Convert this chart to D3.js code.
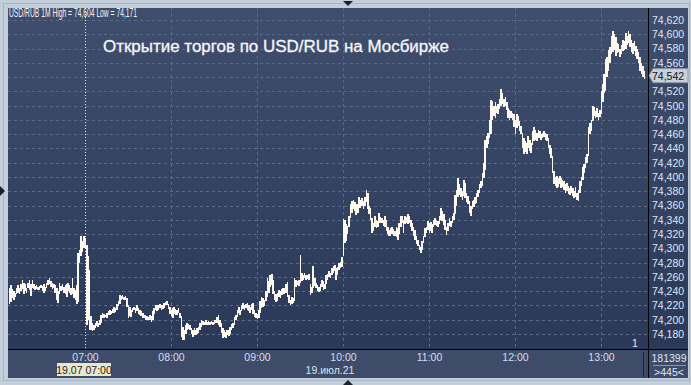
<!DOCTYPE html>
<html>
<head>
<meta charset="utf-8">
<script src="https://cdn.jsdelivr.net/npm/d3@7"></script>
<style>
body { margin: 0; background: #c3cedb; }
svg { display: block; font-family: "Liberation Sans", Arial, sans-serif; }
</style>
</head>
<body>
<svg id="chart" width="691" height="385"></svg>
<script>
// one-minute bars, first bar at 06:07
var firstBar = new Date(2021, 6, 19, 6, 7);
var highs = [
74.245,74.248,74.243,74.240,74.238,74.245,74.248,74.244,74.250,74.255,
74.252,74.250,74.245,74.252,74.256,74.250,74.256,74.250,74.247,74.248,
74.246,74.247,74.249,74.247,74.250,74.246,74.251,74.256,74.258,74.254,
74.252,74.250,74.249,74.245,74.240,74.252,74.247,74.250,74.246,74.248,
74.250,74.251,74.249,74.245,74.258,74.245,74.242,74.248,74.293,74.298,
74.318,74.310,74.317,74.315,74.305,74.290,74.270,74.205,74.195,74.192,
74.196,74.198,74.195,74.200,74.206,74.210,74.208,74.207,74.210,74.212,
74.213,74.212,74.215,74.218,74.216,74.222,74.226,74.234,74.233,74.234,
74.232,74.233,74.230,74.220,74.218,74.214,74.216,74.218,74.217,74.221,
74.216,74.213,74.212,74.210,74.207,74.206,74.205,74.204,74.206,74.205,
74.212,74.216,74.220,74.221,74.220,74.222,74.220,74.221,74.224,74.225,
74.226,74.222,74.218,74.214,74.216,74.218,74.215,74.214,74.216,74.210,
74.205,74.190,74.186,74.192,74.196,74.194,74.192,74.188,74.185,74.188,
74.186,74.188,74.190,74.196,74.200,74.198,74.197,74.199,74.197,74.198,
74.197,74.198,74.197,74.199,74.200,74.204,74.206,74.200,74.195,74.188,
74.185,74.183,74.186,74.185,74.190,74.194,74.196,74.204,74.207,74.214,
74.218,74.214,74.221,74.223,74.220,74.222,74.223,74.220,74.218,74.222,
74.223,74.214,74.210,74.208,74.214,74.226,74.232,74.230,74.228,74.240,
74.258,74.254,74.262,74.264,74.256,74.240,74.236,74.238,74.242,74.240,
74.243,74.245,74.244,74.250,74.253,74.234,74.228,74.232,74.230,74.258,
74.256,74.254,74.256,74.291,74.266,74.262,74.266,74.263,74.262,74.264,
74.250,74.246,74.275,74.258,74.251,74.248,74.246,74.250,74.256,74.254,
74.250,74.262,74.264,74.268,74.266,74.272,74.275,74.277,74.272,74.274,
74.279,74.281,74.288,74.341,74.340,74.334,74.332,74.345,74.362,74.366,
74.368,74.365,74.362,74.362,74.372,74.368,74.371,74.366,74.372,74.382,
74.378,74.360,74.356,74.343,74.335,74.345,74.340,74.338,74.350,74.344,
74.342,74.340,74.345,74.340,74.330,74.326,74.328,74.330,74.327,74.325,
74.330,74.328,74.336,74.346,74.345,74.340,74.346,74.344,74.348,74.346,
74.340,74.335,74.330,74.326,74.318,74.312,74.305,74.302,74.310,74.318,
74.328,74.330,74.338,74.335,74.337,74.334,74.340,74.342,74.340,74.338,
74.345,74.356,74.352,74.348,74.340,74.330,74.335,74.342,74.338,74.345,
74.350,74.375,74.382,74.398,74.390,74.384,74.380,74.396,74.392,74.378,
74.374,74.366,74.360,74.366,74.368,74.372,74.377,74.382,74.390,74.395,
74.406,74.420,74.452,74.458,74.462,74.480,74.508,74.506,74.500,74.505,
74.500,74.502,74.510,74.524,74.518,74.510,74.512,74.505,74.496,74.494,
74.492,74.490,74.488,74.480,74.488,74.485,74.478,74.472,74.462,74.455,
74.450,74.448,74.458,74.452,74.448,74.465,74.470,74.466,74.462,74.466,
74.464,74.460,74.462,74.465,74.462,74.460,74.455,74.445,74.440,74.430,
74.408,74.400,74.402,74.398,74.402,74.398,74.396,74.395,74.390,74.392,
74.388,74.385,74.388,74.384,74.380,74.386,74.378,74.382,74.394,74.400,
74.414,74.418,74.428,74.432,74.470,74.476,74.480,74.500,74.498,74.492,
74.496,74.490,74.494,74.520,74.530,74.545,74.565,74.568,74.578,74.582,
74.598,74.604,74.600,74.596,74.588,74.586,74.580,74.585,74.592,74.590,
74.602,74.598,74.604,74.600,74.592,74.588,74.590,74.584,74.580,74.575,
74.568,74.560,74.555,74.548
];
var lows = [
74.222,74.225,74.230,74.228,74.232,74.236,74.238,74.236,74.240,74.243,
74.236,74.240,74.237,74.245,74.242,74.233,74.245,74.243,74.242,74.243,
74.242,74.241,74.244,74.240,74.238,74.240,74.245,74.248,74.250,74.246,
74.243,74.245,74.238,74.228,74.224,74.236,74.240,74.242,74.238,74.236,
74.232,74.240,74.238,74.235,74.236,74.230,74.228,74.222,74.225,74.280,
74.290,74.295,74.300,74.300,74.192,74.200,74.186,74.185,74.184,74.186,
74.188,74.191,74.190,74.192,74.196,74.203,74.203,74.204,74.203,74.206,
74.207,74.208,74.209,74.210,74.211,74.214,74.219,74.222,74.228,74.229,
74.228,74.227,74.218,74.202,74.205,74.204,74.211,74.213,74.210,74.212,
74.208,74.207,74.205,74.203,74.202,74.200,74.200,74.199,74.199,74.197,
74.200,74.208,74.214,74.212,74.214,74.216,74.214,74.215,74.217,74.220,
74.220,74.215,74.208,74.205,74.203,74.208,74.206,74.207,74.210,74.203,
74.176,74.172,74.171,74.180,74.186,74.187,74.185,74.180,74.176,74.178,
74.178,74.180,74.182,74.186,74.190,74.192,74.192,74.193,74.193,74.193,
74.193,74.194,74.192,74.194,74.195,74.196,74.192,74.190,74.182,74.175,
74.176,74.175,74.178,74.177,74.180,74.186,74.188,74.193,74.200,74.204,
74.210,74.206,74.212,74.215,74.214,74.216,74.214,74.212,74.210,74.214,
74.208,74.204,74.203,74.201,74.203,74.210,74.216,74.218,74.219,74.226,
74.232,74.238,74.246,74.248,74.236,74.228,74.225,74.226,74.232,74.230,
74.234,74.236,74.236,74.238,74.232,74.224,74.220,74.222,74.224,74.226,
74.246,74.248,74.247,74.252,74.254,74.256,74.258,74.256,74.257,74.255,
74.234,74.238,74.245,74.247,74.244,74.240,74.239,74.240,74.246,74.242,
74.243,74.250,74.256,74.260,74.259,74.262,74.266,74.268,74.255,74.262,
74.270,74.272,74.274,74.290,74.308,74.310,74.320,74.330,74.342,74.350,
74.355,74.352,74.347,74.350,74.356,74.356,74.360,74.355,74.360,74.365,
74.355,74.348,74.340,74.322,74.324,74.330,74.328,74.330,74.335,74.336,
74.336,74.332,74.330,74.325,74.320,74.318,74.318,74.320,74.318,74.317,
74.316,74.312,74.320,74.330,74.336,74.322,74.334,74.335,74.334,74.335,
74.330,74.325,74.318,74.312,74.306,74.304,74.298,74.294,74.298,74.308,
74.316,74.322,74.326,74.322,74.325,74.321,74.330,74.333,74.332,74.330,
74.334,74.340,74.338,74.333,74.326,74.319,74.324,74.332,74.330,74.336,
74.340,74.348,74.360,74.372,74.375,74.372,74.368,74.374,74.370,74.365,
74.362,74.350,74.346,74.355,74.358,74.362,74.364,74.372,74.378,74.384,
74.388,74.398,74.410,74.440,74.446,74.455,74.460,74.480,74.486,74.482,
74.490,74.488,74.495,74.500,74.502,74.498,74.500,74.494,74.482,74.480,
74.482,74.480,74.470,74.460,74.468,74.472,74.465,74.460,74.440,74.432,
74.435,74.432,74.440,74.436,74.434,74.445,74.450,74.452,74.450,74.454,
74.455,74.452,74.454,74.456,74.452,74.450,74.440,74.432,74.426,74.405,
74.390,74.388,74.384,74.386,74.390,74.384,74.386,74.382,74.378,74.380,
74.376,74.375,74.378,74.374,74.370,74.372,74.368,74.366,74.378,74.388,
74.396,74.405,74.412,74.420,74.430,74.460,74.465,74.478,74.485,74.482,
74.484,74.480,74.484,74.488,74.505,74.518,74.520,74.540,74.548,74.560,
74.572,74.575,74.578,74.570,74.574,74.575,74.568,74.572,74.576,74.578,
74.580,74.585,74.588,74.582,74.575,74.572,74.576,74.570,74.566,74.560,
74.548,74.545,74.540,74.538
];
var priceTicks = [74.18,74.20,74.22,74.24,74.26,74.28,74.30,74.32,74.34,74.36,74.38,74.40,
                  74.42,74.44,74.46,74.48,74.50,74.52,74.54,74.56,74.58,74.60,74.62];
var hourTicks = ["07:00","08:00","09:00","10:00","11:00","12:00","13:00"];
var lastPrice = 74.542;
var title = "Открытие торгов по USD/RUB на Мосбирже";
var header = "USD/RUB 1M High = 74,604 Low = 74,171";

var svg = d3.select("#chart");
var plotL = 8, plotR = 648, plotT = 8, plotB = 349;

var parseHour = d3.timeParse("%Y-%m-%d %H:%M");
var x = d3.scaleTime()
    .domain([new Date(2021, 6, 19, 6, 6, 17), new Date(2021, 6, 19, 13, 32, 48)])
    .range([plotL, plotR]);
var y = d3.scaleLinear()
    .domain([74.18, 74.62])
    .range([334, 20]);
var fmt = function(v){ return d3.format(".3f")(v).replace(".", ","); };

var bars = highs.map(function(h, i){
    return {t: d3.timeMinute.offset(firstBar, i), high: h, low: lows[i]};
});

// backgrounds
var defs = svg.append("defs");
var grad = defs.append("linearGradient").attr("id", "bg").attr("x1", 0).attr("y1", 0).attr("x2", 0).attr("y2", 1);
grad.append("stop").attr("offset", "0%").attr("stop-color", "#3f4e6c");
grad.append("stop").attr("offset", "100%").attr("stop-color", "#2b3958");

svg.append("rect").attr("x", 3.5).attr("y", 3.5).attr("width", 686).attr("height", 377)
    .attr("fill", "none").attr("stroke", "#a9b6c7");
svg.append("rect").attr("x", plotL).attr("y", plotT).attr("width", 680).attr("height", plotB - plotT)
    .attr("fill", "url(#bg)");
svg.append("rect").attr("x", plotL).attr("y", plotB).attr("width", 680).attr("height", 29)
    .attr("fill", "#3e4c69");

// grid
var gridColor = "#5a6986";
svg.append("g").selectAll("line").data(priceTicks).join("line")
    .attr("x1", plotL).attr("x2", plotR)
    .attr("y1", function(d){ return Math.round(y(d)) + 0.5; })
    .attr("y2", function(d){ return Math.round(y(d)) + 0.5; })
    .attr("stroke", gridColor).attr("stroke-dasharray", "3,3");
svg.append("g").selectAll("line").data(hourTicks).join("line")
    .attr("x1", function(d){ return Math.round(x(parseHour("2021-07-19 " + d))) + 0.5; })
    .attr("x2", function(d){ return Math.round(x(parseHour("2021-07-19 " + d))) + 0.5; })
    .attr("y1", plotT).attr("y2", plotB)
    .attr("stroke", function(d, i){ return i == 0 ? "none" : gridColor; })
    .attr("stroke-dasharray", "3,3");

// cursor line at 07:00
var cx = Math.round(x(parseHour("2021-07-19 07:00"))) + 0.5;
svg.append("line").attr("x1", cx).attr("x2", cx).attr("y1", plotT).attr("y2", plotB)
    .attr("stroke", "#f0f0f0").attr("stroke-dasharray", "1,2");

// bars
svg.append("g").attr("shape-rendering", "crispEdges").selectAll("rect").data(bars).join("rect")
    .attr("x", function(d){ return x(d.t) - 0.4; })
    .attr("width", 1.6)
    .attr("y", function(d){ return y(d.high); })
    .attr("height", function(d){ return Math.max(1, y(d.low) - y(d.high)); })
    .attr("fill", "#fff8ef");

// separators
svg.append("line").attr("x1", plotR + 0.5).attr("x2", plotR + 0.5).attr("y1", plotT).attr("y2", 378)
    .attr("stroke", "#000");
svg.append("line").attr("x1", plotL).attr("x2", 688).attr("y1", plotB + 0.5).attr("y2", plotB + 0.5)
    .attr("stroke", "#000");
svg.append("line").attr("x1", 643.5).attr("x2", 643.5).attr("y1", 352).attr("y2", 377)
    .attr("stroke", "#1c2536");

// right price axis
var yAxis = d3.axisRight(y).tickValues(priceTicks).tickSize(0).tickPadding(4).tickFormat(fmt);
var ya = svg.append("g").attr("transform", "translate(" + plotR + ",0)").call(yAxis);
ya.select(".domain").remove();
ya.selectAll("text").attr("fill", "#dde6f4").attr("font-size", 10.5)
    .attr("font-family", "'Liberation Sans', Arial, sans-serif");

// last price tag
var ly = y(lastPrice);
svg.append("path")
    .attr("d", "M" + (plotR + 1) + "," + ly + "L" + (plotR + 5) + "," + (ly - 7) + "H688V" + (ly + 7) + "H" + (plotR + 5) + "Z")
    .attr("fill", "#c9d0da").attr("stroke", "#8d98a8");
svg.append("text").attr("x", plotR + 4).attr("y", ly + 4).attr("font-size", 10.5)
    .attr("fill", "#111").text(fmt(lastPrice));

// bottom time axis
var xAxis = d3.axisBottom(x).tickValues(hourTicks.map(function(d){ return parseHour("2021-07-19 " + d); }))
    .tickSize(0).tickPadding(4).tickFormat(d3.timeFormat("%H:%M"));
var xa = svg.append("g").attr("transform", "translate(0," + (plotB + 1) + ")").call(xAxis);
xa.select(".domain").remove();
xa.selectAll("text").attr("fill", "#d3def0").attr("font-size", 10.5)
    .attr("font-family", "'Liberation Sans', Arial, sans-serif");

svg.append("rect").attr("x", 57).attr("y", 363).attr("width", 54).attr("height", 13).attr("fill", "#ebe7cb");
svg.append("text").attr("x", 84).attr("y", 373.5).attr("text-anchor", "middle").attr("font-size", 10.5)
    .attr("fill", "#222").text("19.07 07:00");
svg.append("text").attr("x", 330).attr("y", 374).attr("text-anchor", "middle").attr("font-size", 10.5)
    .attr("fill", "#d8e2f2").text("19.июл.21");

svg.append("text").attr("x", 669).attr("y", 362).attr("text-anchor", "middle").attr("font-size", 10.5)
    .attr("fill", "#dde6f4").text("181399");
svg.append("line").attr("x1", 653).attr("x2", 686).attr("y1", 365.5).attr("y2", 365.5).attr("stroke", "#8d98ac");
svg.append("text").attr("x", 669).attr("y", 376).attr("text-anchor", "middle").attr("font-size", 10.5)
    .attr("fill", "#dde6f4").text(">445<");

// texts on the plot
svg.append("text").attr("x", 9).attr("y", 17).attr("font-size", 12)
    .attr("textLength", 128).attr("lengthAdjust", "spacingAndGlyphs")
    .attr("fill", "#f2f4f8").text(header);
svg.append("text").attr("x", 103).attr("y", 52).attr("font-size", 16)
    .attr("textLength", 346).attr("lengthAdjust", "spacingAndGlyphs")
    .attr("fill", "#f4f6fa").attr("stroke", "#f4f6fa").attr("stroke-width", 0.3)
    .text(title);
svg.append("text").attr("x", 632).attr("y", 347).attr("font-size", 10.5)
    .attr("fill", "#e8ecf4").text("1");

// little markers on the frame
svg.append("path").attr("d", "M343,1H353L348,6Z").attr("fill", "#1a2230");
svg.append("path").attr("d", "M343,385H353L348,380Z").attr("fill", "#1a2230");
svg.append("path").attr("d", "M0,186V196L5,191Z").attr("fill", "#1a2230");
</script>
</body>
</html>
